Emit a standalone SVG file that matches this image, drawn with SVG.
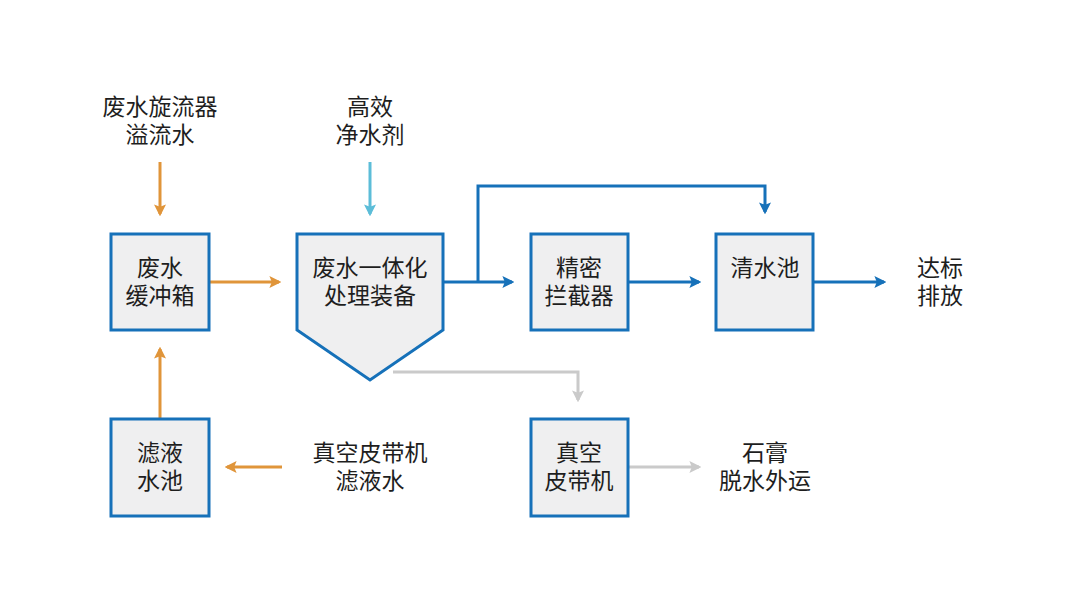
<svg xmlns="http://www.w3.org/2000/svg" width="1080" height="608" viewBox="0 0 1080 608">
<defs>
<style>
.box{fill:#efeff0;stroke:#1671b9;stroke-width:3}
.t{font-family:"Noto Sans CJK SC","Noto Sans",sans-serif;font-size:23px;fill:#1e1e1e;text-anchor:middle}
.b{fill:none;stroke:#1671b9;stroke-width:3}
.o{fill:none;stroke:#e0953a;stroke-width:3}
.c{fill:none;stroke:#5cbdd8;stroke-width:3}
.g{fill:none;stroke:#cacaca;stroke-width:3}
</style>
<marker id="mb" viewBox="0 0 10 10" refX="8" refY="5" markerWidth="4" markerHeight="4" orient="auto" markerUnits="strokeWidth"><path d="M0,0 L10,5 L0,10 L2,5 Z" fill="#1671b9"/></marker>
<marker id="mo" viewBox="0 0 10 10" refX="8" refY="5" markerWidth="4" markerHeight="4" orient="auto" markerUnits="strokeWidth"><path d="M0,0 L10,5 L0,10 L2,5 Z" fill="#e0953a"/></marker>
<marker id="mc" viewBox="0 0 10 10" refX="8" refY="5" markerWidth="4" markerHeight="4" orient="auto" markerUnits="strokeWidth"><path d="M0,0 L10,5 L0,10 L2,5 Z" fill="#5cbdd8"/></marker>
<marker id="mg" viewBox="0 0 10 10" refX="8" refY="5" markerWidth="4" markerHeight="4" orient="auto" markerUnits="strokeWidth"><path d="M0,0 L10,5 L0,10 L2,5 Z" fill="#cacaca"/></marker>
</defs>
<rect width="1080" height="608" fill="#ffffff"/>
<g id="connectors">
<path class="o" d="M160,162 V214" marker-end="url(#mo)"/>
<path class="c" d="M370,162 V214" marker-end="url(#mc)"/>
<path class="o" d="M209,282 H279" marker-end="url(#mo)"/>
<path class="b" d="M443,282 H512" marker-end="url(#mb)"/>
<path class="b" d="M478,282 V186 H765 V212" marker-end="url(#mb)"/>
<path class="b" d="M629,282 H699" marker-end="url(#mb)"/>
<path class="b" d="M814,282 H884" marker-end="url(#mb)"/>
<path class="g" d="M393,372 H578 V400" marker-end="url(#mg)"/>
<path class="g" d="M629,467 H699" marker-end="url(#mg)"/>
<path class="o" d="M282,467 H227" marker-end="url(#mo)"/>
<path class="o" d="M160,419 V349" marker-end="url(#mo)"/>
</g>
<g id="label-overflow"><text class="t" x="160" y="115">废水旋流器</text><text class="t" x="160" y="143">溢流水</text></g>
<g id="label-agent"><text class="t" x="370" y="115">高效</text><text class="t" x="370" y="143">净水剂</text></g>
<g id="buffer"><rect class="box" x="111" y="234" width="98" height="96"/><text class="t" x="160" y="276">废水</text><text class="t" x="160" y="304">缓冲箱</text></g>
<g id="treatment"><path class="box" d="M297,234 H443 V330 L370,380 L297,330 Z"/><text class="t" x="370" y="276">废水一体化</text><text class="t" x="370" y="304">处理装备</text></g>
<g id="interceptor"><rect class="box" x="531" y="234" width="97" height="96"/><text class="t" x="579" y="276">精密</text><text class="t" x="579" y="304">拦截器</text></g>
<g id="clearpool"><rect class="box" x="716" y="234" width="97" height="96"/><text class="t" x="765" y="276">清水池</text></g>
<g id="label-discharge"><text class="t" x="940" y="276">达标</text><text class="t" x="940" y="304">排放</text></g>
<g id="filtratepool"><rect class="box" x="111" y="419" width="98" height="97"/><text class="t" x="160" y="461">滤液</text><text class="t" x="160" y="489">水池</text></g>
<g id="label-filtrate"><text class="t" x="370" y="461">真空皮带机</text><text class="t" x="370" y="489">滤液水</text></g>
<g id="beltfilter"><rect class="box" x="531" y="419" width="97" height="97"/><text class="t" x="579" y="461">真空</text><text class="t" x="579" y="489">皮带机</text></g>
<g id="label-gypsum"><text class="t" x="765" y="461">石膏</text><text class="t" x="765" y="489">脱水外运</text></g>
</svg>
